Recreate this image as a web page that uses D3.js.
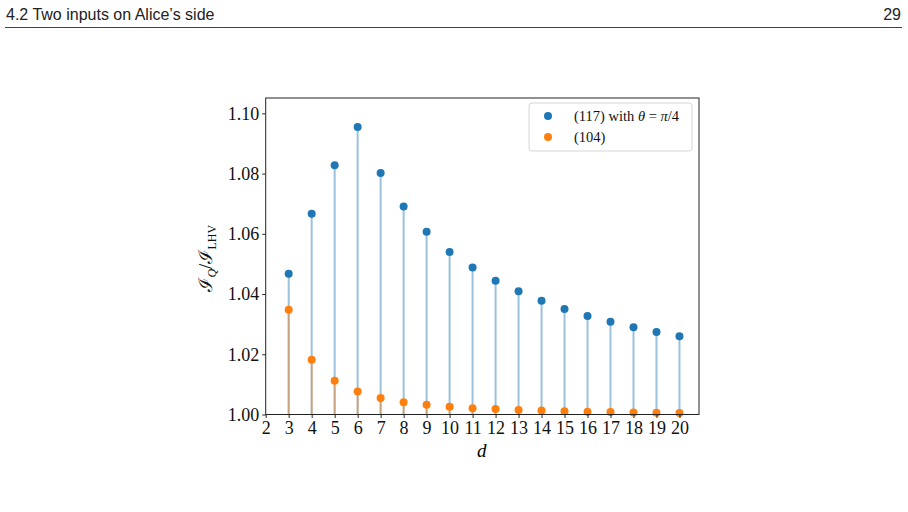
<!DOCTYPE html>
<html>
<head>
<meta charset="utf-8">
<script src="https://cdn.jsdelivr.net/npm/d3@7"></script>
<style>
  body { margin: 0; background: #fff; }
  svg { display: block; }
  .tick text { font-family: "Liberation Serif", "DejaVu Serif", serif; }
</style>
</head>
<body>
<div id="chart"></div>
<script>
// values
const dValues = [3, 4, 5, 6, 7, 8, 9, 10, 11, 12, 13, 14, 15, 16, 17, 18, 19, 20];
const ratioQuantum = [1.0467, 1.0667, 1.0828, 1.0955, 1.0802, 1.0691, 1.0607, 1.0540, 1.0488,
  1.0444, 1.0409, 1.0378, 1.0350, 1.0327, 1.0308, 1.0290, 1.0274, 1.0260];
const ratioOther = [1.0348, 1.0182, 1.0112, 1.0076, 1.0055, 1.0041, 1.0032, 1.0026, 1.0021,
  1.0018, 1.0015, 1.0013, 1.0011, 1.0009, 1.0008, 1.0007, 1.0006, 1.0005];
const xTicks = [2, 3, 4, 5, 6, 7, 8, 9, 10, 11, 12, 13, 14, 15, 16, 17, 18, 19, 20];
const yTicks = [1.00, 1.02, 1.04, 1.06, 1.08, 1.10];

const canvWidth = 908, canvHeight = 512;
const svg = d3.select("#chart").append("svg")
    .attr("width", canvWidth)
    .attr("height", canvHeight);

// page header
svg.append("text")
    .attr("x", 6).attr("y", 20)
    .attr("font-family", "Liberation Sans, sans-serif")
    .attr("font-size", 16)
    .attr("fill", "#222")
    .text("4.2 Two inputs on Alice\u2019s side");
svg.append("text")
    .attr("x", 901).attr("y", 20)
    .attr("text-anchor", "end")
    .attr("font-family", "Liberation Sans, sans-serif")
    .attr("font-size", 16)
    .attr("fill", "#222")
    .text("29");
svg.append("line")
    .attr("x1", 5).attr("x2", 902)
    .attr("y1", 27.5).attr("y2", 27.5)
    .attr("stroke", "#444").attr("stroke-width", 1);

// plot area
const margin = {top: 98, right: 209, bottom: 97.5, left: 265.7};
const width = canvWidth - margin.left - margin.right;
const height = canvHeight - margin.top - margin.bottom;

const g = svg.append("g")
    .attr("transform", "translate(" + margin.left + "," + margin.top + ")");

const xScale = d3.scaleLinear().domain([2, 20.85]).range([0, width]);
const yScale = d3.scaleLinear().domain([1.0, 1.1051]).range([height, 0]);

const blue = "#1f77b4", orange = "#ff7f0e";

// stems for first series
g.selectAll(".stem-q")
  .data(dValues)
  .enter().append("line")
    .attr("class", "stem-q")
    .attr("x1", d => xScale(d)).attr("x2", d => xScale(d))
    .attr("y1", yScale(1.0))
    .attr("y2", (d, i) => yScale(ratioQuantum[i]))
    .attr("stroke", blue).attr("stroke-opacity", 0.45)
    .attr("stroke-width", 2);

// stems for second series
g.selectAll(".stem-o")
  .data(dValues)
  .enter().append("line")
    .attr("class", "stem-o")
    .attr("x1", d => xScale(d)).attr("x2", d => xScale(d))
    .attr("y1", yScale(1.0))
    .attr("y2", (d, i) => yScale(ratioOther[i]))
    .attr("stroke", orange).attr("stroke-opacity", 0.45)
    .attr("stroke-width", 2);

g.selectAll(".dot-q")
  .data(dValues)
  .enter().append("circle")
    .attr("class", "dot-q")
    .attr("cx", d => xScale(d))
    .attr("cy", (d, i) => yScale(ratioQuantum[i]))
    .attr("r", 4)
    .attr("fill", blue);

g.selectAll(".dot-o")
  .data(dValues)
  .enter().append("circle")
    .attr("class", "dot-o")
    .attr("cx", d => xScale(d))
    .attr("cy", (d, i) => yScale(ratioOther[i]))
    .attr("r", 4)
    .attr("fill", orange);

// axes
const xAxis = d3.axisBottom(xScale).tickValues(xTicks).tickFormat(d3.format("d"))
    .tickSizeInner(3.5).tickSizeOuter(0).tickPadding(3);
g.append("g")
    .attr("transform", "translate(0," + height + ")")
    .call(xAxis)
    .call(a => a.select(".domain").remove())
    .selectAll("text").attr("font-size", 18).attr("fill", "#111");

const yAxis = d3.axisLeft(yScale).tickValues(yTicks).tickFormat(d3.format(".2f"))
    .tickSizeInner(3.5).tickSizeOuter(0).tickPadding(3);
g.append("g")
    .call(yAxis)
    .call(a => a.select(".domain").remove())
    .selectAll("text").attr("font-size", 18).attr("fill", "#111");

g.selectAll(".tick line").attr("stroke", "#111").attr("stroke-width", 0.9);

// frame
g.append("rect")
    .attr("width", width).attr("height", height)
    .attr("fill", "none").attr("stroke", "#222").attr("stroke-width", 1);

// axis labels
g.append("text")
    .attr("x", xScale(11.4)).attr("y", height + 42)
    .attr("text-anchor", "middle")
    .attr("font-family", "Liberation Serif, serif")
    .attr("font-style", "italic")
    .attr("font-size", 19)
    .text("d");

const ylab = g.append("text")
    .attr("transform", "translate(-54," + (height / 2 + 2) + ") rotate(-90)")
    .attr("text-anchor", "middle")
    .attr("font-family", "DejaVu Serif, serif")
    .attr("font-size", 19)
    .attr("fill", "#111");
ylab.append("tspan").text("\u2110");
ylab.append("tspan").attr("font-size", 12).attr("dy", 4).attr("font-family", "Liberation Serif, serif").attr("font-style", "italic").text("Q");
ylab.append("tspan").attr("dy", -4).attr("font-family", "Liberation Serif, serif").text("/");
ylab.append("tspan").text("\u2110");
ylab.append("tspan").attr("font-size", 12).attr("dy", 4).attr("font-family", "Liberation Serif, serif").text("LHV");

// legend
const leg = g.append("g").attr("transform", "translate(" + (width - 170) + ",5)");
leg.append("rect")
    .attr("width", 163).attr("height", 48).attr("rx", 3)
    .attr("fill", "#fff").attr("stroke", "#d5d5d5").attr("stroke-width", 1);
const legColors = [blue, orange];
legColors.forEach((c, i) => {
  leg.append("circle")
    .attr("cx", 19).attr("cy", 13 + i * 21).attr("r", 4)
    .attr("fill", c);
});
const legFont = "Liberation Serif, serif";
const t1 = leg.append("text")
    .attr("x", 45).attr("y", 17.5)
    .attr("font-family", legFont).attr("font-size", 14.5).attr("fill", "#111");
t1.append("tspan").text("(117) with ");
t1.append("tspan").attr("font-style", "italic").text("θ");
t1.append("tspan").text(" = ");
t1.append("tspan").attr("font-style", "italic").text("π");
t1.append("tspan").text("/4");
leg.append("text")
    .attr("x", 45).attr("y", 38.5)
    .attr("font-family", legFont).attr("font-size", 14.5).attr("fill", "#111")
    .text("(104)");
</script>
</body>
</html>
